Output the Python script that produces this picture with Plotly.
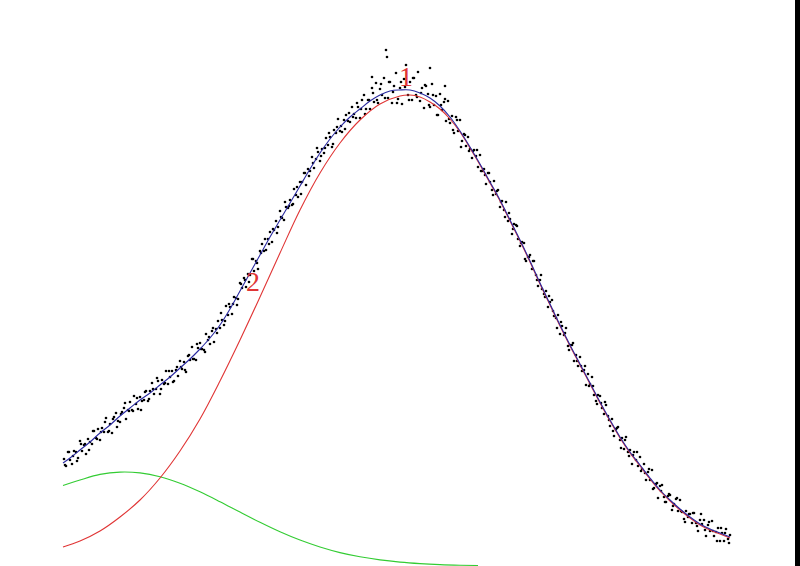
import plotly.graph_objects as go

# Scatter data (channel, counts) - first set
pts_x = [64,66,68,70,72,74,76,78,80,82,84,86,88,90,92,94,96,98,100,102,104,106,108,110,112,114,116,118,120,122,124,126,128,130,132,134,136,138,140,142,
         144,146,148,150,152,154,156,158,160,162,164,166,168,170,172,174,176,178,180,182,184,186,188,190,192,194,196,198,200,202,204,206,208,210,212,214,216,218,220,222,
         224,226,228,230,232,234,236,238,240,242,244,246,248,250,252,254,256,258,260,262,264,266,268,270,272,274,276,278,280,282,284,286,288,290,292,294,296,298,300,302,
         304,306,308,310,312,314,316,318,320,322,324,326,328,330,332,334,336,338,340,342,344,346,348,350,352,354,356,358,360,362,364,366,368,370,372,374,376,378,380,382,
         384,386,388,390,392,394,396,398,400,402,404,406,408,410,412,414,416,418,420,422,424,426,428,430,432,434,436,438,440,442,444,446,448,450,452,454,456,458,460,462,
         464,466,468,470,472,474,476,478,480,482,484,486,488,490,492,494,496,498,500,502,504,506,508,510,512,514,516,518,520,522,524,526,528,530,532,534,536,538,540,542,
         544,546,548,550,552,554,556,558,560,562,564,566,568,570,572,574,576,578,580,582,584,586,588,590,592,594,596,598,600,602,604,606,608,610,612,614,616,618,620,622,
         624,626,628,630,632,634,636,638,640,642,644,646,648,650,652,654,656,658,660,662,664,666,668,670,672,674,676,678,680,682,684,686,688,690,692,694,696,698,700,702,
         704,706,708,710,712,714,716,718,720,722,724,726,728,730,
         387,430,372,445]
pts_y = [107,100,114,106,102,115,114,108,125,115,121,112,127,124,122,135,128,137,126,138,134,148,134,142,133,149,153,145,144,154,158,147,156,164,156,170,162,157,169,165,
         166,175,165,175,183,172,177,185,172,186,182,195,182,189,195,185,196,190,205,197,204,194,210,206,219,207,206,218,223,217,216,232,226,222,235,224,237,245,238,246,
         241,260,251,259,252,269,268,267,283,278,288,279,292,291,307,295,305,297,315,322,315,316,327,334,324,336,345,339,355,348,346,359,358,366,361,377,371,369,384,384,
         393,381,397,395,409,398,407,414,405,417,413,428,421,429,419,436,433,447,435,434,446,451,445,444,459,452,448,459,448,466,471,457,466,457,478,464,483,463,477,471,
         488,516,468,484,463,480,493,467,478,462,487,501,471,484,466,488,471,494,465,478,458,480,472,459,482,461,470,451,472,456,464,445,465,443,450,433,449,435,446,425,
         432,420,429,417,408,416,410,399,411,395,397,382,393,384,376,385,372,376,359,365,356,364,345,347,332,342,341,327,320,324,323,305,309,311,297,305,291,280,286,277,
         272,275,259,264,266,250,248,251,232,240,231,238,220,221,221,205,211,200,209,195,196,181,192,182,189,171,165,171,170,158,152,161,150,140,147,130,137,139,126,128,
         117,129,114,116,102,114,106,100,109,97,102,86,94,86,96,78,82,68,80,81,69,64,70,71,56,62,67,55,66,54,47,55,49,52,43,53,43,35,46,42,
         46,30,41,35,45,30,34,38,25,33,25,37,27,31,
         509,498,489,480]

# Scatter data - second set
pts2_x = [65,69,73,77,81,85,89,93,97,101,105,109,113,117,121,125,129,133,137,141,
          145,149,153,157,161,165,169,173,177,181,185,189,193,197,201,205,209,213,217,221,
          225,229,233,237,241,245,249,253,257,261,265,269,273,277,281,285,289,293,297,301,
          305,309,313,317,321,325,329,333,337,341,345,349,353,357,361,365,369,373,377,381,
          385,389,393,397,401,405,409,413,417,421,425,429,433,437,441,445,449,453,457,461,
          465,469,473,477,481,485,489,493,497,501,505,509,513,517,521,525,529,533,537,541,
          545,549,553,557,561,565,569,573,577,581,585,589,593,597,601,605,609,613,617,621,
          625,629,633,637,641,645,649,653,657,661,665,669,673,677,681,685,689,693,697,701,
          705,709,713,717,721,725,729]
pts2_y = [101,114,110,105,122,122,116,135,127,134,144,135,147,139,152,163,155,155,168,156,
          174,167,177,188,177,183,195,184,199,199,196,211,207,222,217,214,229,238,233,253,
          245,262,262,261,282,286,284,307,303,313,327,322,337,333,349,364,360,362,379,372,
          393,390,403,418,410,418,433,422,439,440,437,453,449,463,457,452,466,473,466,482,
          468,484,474,463,484,479,466,488,469,473,481,461,471,451,461,467,447,436,446,419,
          431,415,415,416,395,391,393,371,375,364,349,353,337,340,323,307,309,305,286,291,
          269,270,255,238,244,233,216,223,205,200,200,180,180,162,163,164,146,135,138,118,
          126,110,111,114,95,93,97,77,83,75,64,72,60,68,55,44,52,53,40,52,
          36,44,35,25,38,33,23]

# Total fit (blue)
fit_x = [63,70,80,90,100,110,120,130,140,150,160,170,180,190,200,210,220,230,240,250,260,270,280,290,300,310,320,330,340,350,
         360,370,380,390,400,410,420,430,440,450,460,470,480,490,500,510,520,530,540,550,560,570,580,590,600,610,620,630,640,650,
         660,670,680,690,700,710,720,730]
fit_y = [103,108,116,124,133,141,150,158,166,173,181,189,198,207,217,228,241,257,275,293,311,329,346,363,380,397,413,427,439,449,
         457,465,471,475,476,476,473,468,460,449,435,419,402,384,366,346,326,305,283,262,241,221,202,183,164,146,129,114,101,88,
         76,66,57,49,42,37,33,29]

# Peak 1 (red)
p1_x = [63,80,100,120,140,160,180,200,220,240,260,280,300,320,340,360,380,400,410,420,430,440,450,460,470,480,490,500,510,520,
        530,540,550,560,570,580,590,600,610,620,630,640,650,660,670,680,690,700,710,720,730]
p1_y = [19,25,35,49,66,88,115,147,185,226,269,313,356,393,423,446,462,470,471,469,464,457,447,434,418,401,383,365,345,325,
        304,282,261,240,220,201,182,163,145,128,113,100,87,75,65,56,48,41,36,32,28]

# Peak 2 (green)
p2_x = [63,80,100,120,140,160,180,200,220,240,260,280,300,320,340,360,380,400,420,440,460,478]
p2_y = [80.5,86,91.6,93.9,93.1,89.3,82.8,74.2,64.3,53.9,43.7,34.2,25.9,19.0,13.4,9.2,6.1,3.9,2.4,1.4,0.8,0.5]

labels = ["1", "2"]
label_x = [406, 253]
label_y = [490, 285]

fig = go.Figure()
fig.add_trace(go.Scatter(x=pts_x + pts2_x, y=pts_y + pts2_y, mode="markers",
                         marker=dict(color="black", size=2.6), showlegend=False))
fig.add_trace(go.Scatter(x=p2_x, y=p2_y, mode="lines", line=dict(color="#33cc33", width=1.1, shape="spline"),
                         showlegend=False))
fig.add_trace(go.Scatter(x=p1_x, y=p1_y, mode="lines", line=dict(color="#e03535", width=1.1, shape="spline"),
                         showlegend=False))
fig.add_trace(go.Scatter(x=fit_x, y=fit_y, mode="lines", line=dict(color="#2a2aa0", width=1.1, shape="spline"),
                         showlegend=False))

for t, lx, ly in zip(labels, label_x, label_y):
    fig.add_annotation(x=lx, y=ly, xref="x", yref="y", text=t, showarrow=False,
                       font=dict(family="Liberation Serif", size=28, color="#e03535"))

fig.update_layout(
    width=800, height=566,
    margin=dict(l=0, r=5, t=0, b=0),
    paper_bgcolor="black", plot_bgcolor="white",
    xaxis=dict(range=[0, 795], visible=False, fixedrange=True),
    yaxis=dict(range=[0, 566], visible=False, fixedrange=True),
)
fig.write_html("out.html", config={"displayModeBar": False},
               post_script="document.body.style.margin='0';document.body.style.overflow='hidden';")
